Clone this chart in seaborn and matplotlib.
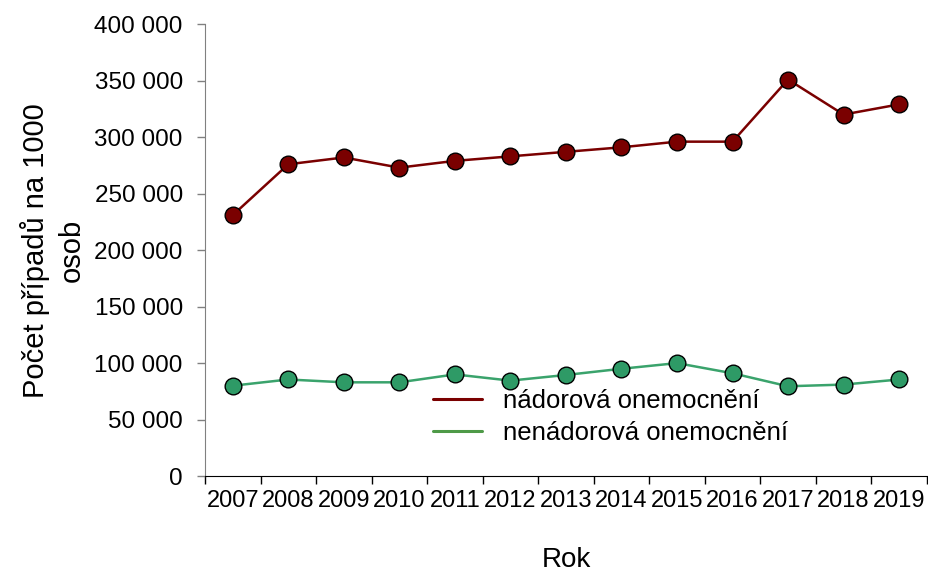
import pandas as pd
import matplotlib.pyplot as plt
import matplotlib.ticker as mticker
from matplotlib.lines import Line2D
import seaborn as sns

years = [2007, 2008, 2009, 2010, 2011, 2012, 2013, 2014, 2015, 2016, 2017, 2018, 2019]
nador = [231000, 276000, 282000, 273000, 279000, 283000, 287000, 291000, 296000, 296000, 351000, 320000, 329000]
nenador = [80000, 85500, 83000, 83000, 90000, 84500, 89500, 95000, 100000, 91000, 79500, 81000, 85500]
series_names = ['nádorová onemocnění', 'nenádorová onemocnění']

df = pd.DataFrame({
    'pos': list(range(len(years))) * 2,
    'value': nador + nenador,
    'serie': [series_names[0]] * len(years) + [series_names[1]] * len(years),
})

sns.set_style('white')
plt.rcParams['font.family'] = ['Liberation Sans', 'DejaVu Sans']
plt.rcParams['text.color'] = 'black'
plt.rcParams['axes.labelcolor'] = 'black'
plt.rcParams['xtick.color'] = 'black'
plt.rcParams['ytick.color'] = 'black'

line_colors = {series_names[0]: '#7a0000', series_names[1]: '#3aa36c'}
marker_colors = {series_names[0]: '#7a0000', series_names[1]: '#2e9a66'}

fig = plt.figure(figsize=(9.29, 5.75), dpi=100)
ax = fig.add_axes([0.2207, 0.172, 0.777, 0.786])

sns.lineplot(data=df, x='pos', y='value', hue='serie', palette=line_colors,
             linewidth=1.8, ax=ax, legend=False)
for name in series_names:
    sub = df[df['serie'] == name]
    ax.plot(sub['pos'], sub['value'], 'o', ms=12, mfc=marker_colors[name],
            mec='black', mew=1.0, zorder=3)

ax.set_xlim(-0.5, len(years) - 0.5)
ax.set_ylim(0, 400000)
ax.yaxis.set_major_locator(mticker.MultipleLocator(50000))
ax.yaxis.set_major_formatter(mticker.FuncFormatter(lambda v, p: f'{int(v):,}'.replace(',', ' ')))

ax.set_xticks([i - 0.5 for i in range(len(years) + 1)])
ax.set_xticklabels([])
ax.set_xticks(range(len(years)), minor=True)
ax.set_xticklabels([str(y) for y in years], minor=True)
ax.tick_params(axis='x', which='major', direction='out', length=6, width=1, color='black', bottom=True)
ax.tick_params(axis='x', which='minor', length=0, labelsize=17, pad=10)
ax.tick_params(axis='y', direction='out', length=6, width=1, color='#808080', labelsize=17.5, left=True, pad=10)

for s in ['top', 'right']:
    ax.spines[s].set_visible(False)
ax.spines['left'].set_color('#808080')
ax.spines['bottom'].set_color('black')

ax.set_xlabel('Rok', fontsize=20, labelpad=25)
ax.set_ylabel('Počet případů na 1000\nosob', fontsize=21, labelpad=6, linespacing=1.35)

handles = [Line2D([0], [0], color='#7a0000', lw=2.2),
           Line2D([0], [0], color='#4e9a48', lw=2.2)]
ax.legend(handles, series_names, loc='upper left', bbox_to_anchor=(0.302, 0.215),
          borderaxespad=0, frameon=False, fontsize=18.5, handlelength=1.9,
          labelspacing=0.3, handletextpad=0.8)

fig.savefig('out.png', dpi=100)
